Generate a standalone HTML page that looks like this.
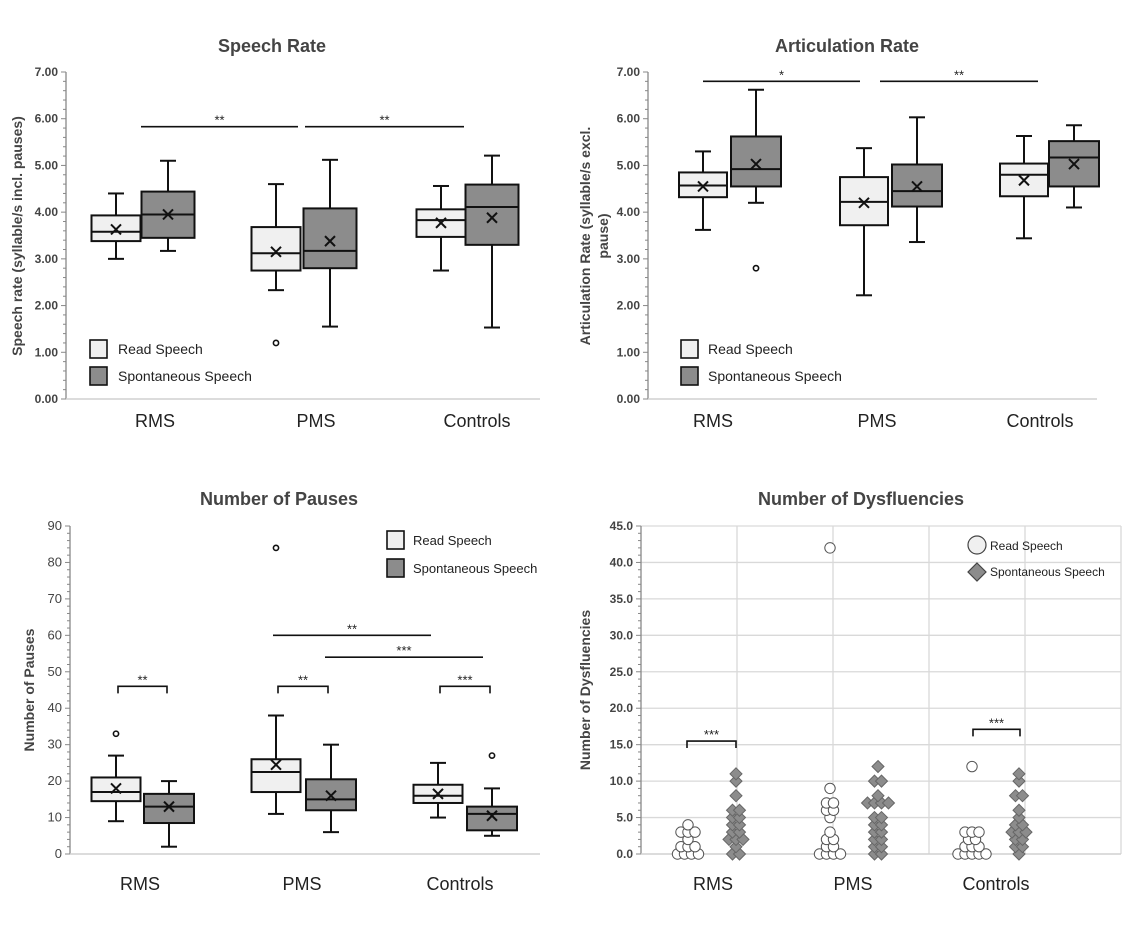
<!DOCTYPE html>
<html><head><meta charset="utf-8">
<style>
html,body{margin:0;padding:0;background:#fff;}
svg{display:block;font-family:"Liberation Sans",sans-serif;}
</style></head>
<body>
<svg id="c" width="1127" height="928" viewBox="0 0 1127 928"></svg>
<script>
const NS='http://www.w3.org/2000/svg';
const svg=document.getElementById('c');
// ---- data ----
const categories=['RMS','PMS','Controls'];
// [whiskerLow, q1, median, q3, whiskerHigh, mean]
const speechRead=[[3.0,3.38,3.58,3.93,4.4,3.63],[2.33,2.75,3.12,3.68,4.6,3.15],[2.75,3.47,3.83,4.06,4.56,3.77]];
const speechSpont=[[3.17,3.45,3.95,4.44,5.1,3.95],[1.55,2.8,3.17,4.08,5.12,3.38],[1.53,3.3,4.11,4.59,5.21,3.88]];
const speechOutRead=[[],[1.2],[]];
const speechOutSpont=[[],[],[]];
const artRead=[[3.62,4.32,4.57,4.85,5.3,4.55],[2.22,3.72,4.22,4.75,5.37,4.2],[3.44,4.34,4.8,5.04,5.63,4.68]];
const artSpont=[[4.2,4.55,4.92,5.62,6.62,5.03],[3.36,4.12,4.45,5.02,6.03,4.55],[4.1,4.55,5.17,5.52,5.86,5.03]];
const artOutRead=[[],[],[]];
const artOutSpont=[[2.8],[],[]];
const pauseRead=[[9,14.5,17,21,27,18],[11,17,22.5,26,38,24.5],[10,14,16,19,25,16.5]];
const pauseSpont=[[2,8.5,13,16.5,20,13],[6,12,15,20.5,30,16],[5,6.5,11,13,18,10.5]];
const pauseOutRead=[[33],[84],[]];
const pauseOutSpont=[[],[],[27]];
const dysRead=[[0,0,0,0,1,1,1,2,3,3,3,4],[0,0,0,0,1,1,2,2,3,5,6,6,7,7,9,42],[0,0,0,0,0,1,1,1,2,2,3,3,3,12]];
const dysSpont=[[0,0,1,2,2,2,3,3,4,4,5,5,6,6,8,10,11],[0,0,1,1,2,2,3,3,4,4,5,5,7,7,7,7,8,10,10,12],[0,1,1,2,2,3,3,3,4,4,5,6,8,8,10,11]];
const speechTicks=['0.00','1.00','2.00','3.00','4.00','5.00','6.00','7.00'];
const pauseTicks=['0','10','20','30','40','50','60','70','80','90'];
const dysTicks=['0.0','5.0','10.0','15.0','20.0','25.0','30.0','35.0','40.0','45.0'];

function el(tag,attrs,parent,text){const e=document.createElementNS(NS,tag);for(const k in attrs)e.setAttribute(k,attrs[k]);if(text!==undefined)e.textContent=text;(parent||svg).appendChild(e);return e;}
function txt(x,y,s,size,opt,name){opt=opt||{};const t=el('text',Object.assign({x:x,y:y,'font-size':size,fill:opt.fill||'#333','font-weight':opt.bold?'bold':'normal','text-anchor':opt.anchor||'middle'},opt.extra||{}),opt.parent,s);return t;}

function panel(cfg){
  const g=el('g',{});
  
  
  const y=v=>cfg.y0-(v-cfg.vmin)/(cfg.vmax-cfg.vmin)*(cfg.y0-cfg.y1);
  txt(cfg.titleX,cfg.titleY,cfg.title,18,{bold:true,fill:'#444',parent:g},'chart-title');
  if(cfg.grid){
    cfg.ticks.forEach((t,i)=>{const v=cfg.vmin+i*(cfg.vmax-cfg.vmin)/(cfg.ticks.length-1);if(i>0){const l=el('line',{x1:cfg.ax,x2:cfg.axEnd,y1:y(v),y2:y(v),stroke:'#d9d9d9','stroke-width':1.3},g);}});
    cfg.vgrid.forEach(xv=>{const l=el('line',{x1:xv,x2:xv,y1:cfg.y1,y2:cfg.y0,stroke:'#d9d9d9','stroke-width':1.3},g);});
  }
  const ya=el('line',{x1:cfg.ax,x2:cfg.ax,y1:cfg.y1,y2:cfg.y0,stroke:'#888','stroke-width':1.3},g);
  
  const xa=el('line',{x1:cfg.ax,x2:cfg.axEnd,y1:cfg.y0,y2:cfg.y0,stroke:'#d0d0d0','stroke-width':1.5},g);
  
  const n=cfg.ticks.length-1, step=(cfg.vmax-cfg.vmin)/n;
  for(let i=0;i<=n*cfg.minor;i++){const v=cfg.vmin+i*step/cfg.minor;const major=i%cfg.minor===0;
    const t=el('line',{x1:cfg.ax-(major?5:3),x2:cfg.ax,y1:y(v),y2:y(v),stroke:'#888','stroke-width':1},g);
    }
  cfg.ticks.forEach((s,i)=>txt(cfg.ax-8,y(cfg.vmin+i*step)+4,s,cfg.tickSize,{bold:cfg.tickBold,anchor:'end',fill:'#444',parent:g},'y-tick-label'));
  categories.forEach((c,i)=>txt(cfg.catX[i],cfg.catY,c,18,{fill:'#222',parent:g},'x-category-label'));
  cfg.ytitle.forEach((s,i)=>{const xx=cfg.ytX[i];txt(xx,cfg.ytY,s,cfg.ytSize||14,{bold:true,fill:'#444',parent:g,extra:{transform:'rotate(-90 '+xx+' '+cfg.ytY+')'}},'y-axis-title');});
  return {g,y};
}

function boxes(P,cx,data,outs,fill,w,name){
  data.forEach((d,i)=>{
    const x=cx[i],y=P.y,g=el('g',{},P.g);
    
    
    const s={stroke:'#111','stroke-width':2,fill:'none'};
    el('line',Object.assign({x1:x,x2:x,y1:y(d[0]),y2:y(d[1])},s),g);
    el('line',Object.assign({x1:x,x2:x,y1:y(d[3]),y2:y(d[4])},s),g);
    el('line',Object.assign({x1:x-8,x2:x+8,y1:y(d[0]),y2:y(d[0])},s),g);
    el('line',Object.assign({x1:x-8,x2:x+8,y1:y(d[4]),y2:y(d[4])},s),g);
    el('rect',{x:x-w/2,y:y(d[3]),width:w,height:y(d[1])-y(d[3]),fill:fill,stroke:'#111','stroke-width':2},g);
    el('line',Object.assign({x1:x-w/2,x2:x+w/2,y1:y(d[2]),y2:y(d[2])},s),g);
    const m=y(d[5]);
    el('path',Object.assign({d:`M${x-5} ${m-5}L${x+5} ${m+5}M${x+5} ${m-5}L${x-5} ${m+5}`},s),g);
    outs[i].forEach(o=>{const c=el('circle',{cx:x,cy:y(o),r:2.6,fill:'#fff',stroke:'#111','stroke-width':1.6},g);});
  });
}
function sigLine(P,x1,x2,v,label,bracket){
  const yy=P.y(v);
  const d=bracket?`M${x1} ${yy+7}V${yy}H${x2}V${yy+7}`:`M${x1} ${yy}H${x2}`;
  const p=el('path',{d:d,stroke:'#111','stroke-width':1.6,fill:'none'},P.g);
  
  txt((x1+x2)/2,yy-2,label,13,{fill:'#222',parent:P.g},'significance-label');
}
function legendBoxes(P,x,y1,y2,size,tx,fs){
  [[y1,'#f0f0f0','Read Speech'],[y2,'#8c8c8c','Spontaneous Speech']].forEach(([yy,f,s])=>{
    const r=el('rect',{x:x,y:yy,width:size,height:size+1,fill:f,stroke:'#111','stroke-width':1.6},P.g);
    
    txt(tx,yy+size-3,s,fs,{anchor:'start',fill:'#222',parent:P.g},'legend-entry');
  });
}

// Panel 1
const P1=panel({name:'speech-rate-chart',title:'Speech Rate',titleX:272,titleY:52,ax:66,axEnd:540,y0:399,y1:72,vmin:0,vmax:7,ticks:speechTicks,minor:5,tickSize:12,tickBold:true,catX:[155,316,477],catY:427,ytitle:['Speech rate (syllable/s incl. pauses)'],ytX:[22],ytY:236});
boxes(P1,[116,276,441],speechRead,speechOutRead,'#f0f0f0',49,'read-box');
boxes(P1,[168,330,492],speechSpont,speechOutSpont,'#8c8c8c',53,'spont-box');
sigLine(P1,141,298,5.83,'**');sigLine(P1,305,464,5.83,'**');
legendBoxes(P1,90,340,367,17,118,14);

// Panel 2
const P2=panel({name:'articulation-rate-chart',title:'Articulation Rate',titleX:847,titleY:52,ax:648,axEnd:1097,y0:399,y1:72,vmin:0,vmax:7,ticks:speechTicks,minor:5,tickSize:12,tickBold:true,catX:[713,877,1040],catY:427,ytitle:['Articulation Rate (syllable/s excl.','pause)'],ytX:[590,608],ytY:236});
boxes(P2,[703,864,1024],artRead,artOutRead,'#f0f0f0',48,'read-box');
boxes(P2,[756,917,1074],artSpont,artOutSpont,'#8c8c8c',50,'spont-box');
sigLine(P2,703,860,6.8,'*');sigLine(P2,880,1038,6.8,'**');
legendBoxes(P2,681,340,367,17,708,14);

// Panel 3
const P3=panel({name:'number-of-pauses-chart',title:'Number of Pauses',titleX:279,titleY:505,ax:70,axEnd:540,y0:854,y1:526,vmin:0,vmax:90,ticks:pauseTicks,minor:5,tickSize:13,tickBold:false,catX:[140,302,460],catY:890,ytitle:['Number of Pauses'],ytX:[34],ytY:690});
boxes(P3,[116,276,438],pauseRead,pauseOutRead,'#f0f0f0',49,'read-box');
boxes(P3,[169,331,492],pauseSpont,pauseOutSpont,'#8c8c8c',50,'spont-box');
sigLine(P3,118,167,46,'**',true);sigLine(P3,278,328,46,'**',true);sigLine(P3,440,490,46,'***',true);
sigLine(P3,273,431,60,'**');sigLine(P3,325,483,54,'***');
legendBoxes(P3,387,531,559,17,413,13);

// Panel 4
const P4=panel({name:'number-of-dysfluencies-chart',title:'Number of Dysfluencies',titleX:861,titleY:505,ax:641,axEnd:1121,y0:854,y1:526,vmin:0,vmax:45,ticks:dysTicks,minor:5,tickSize:12,tickBold:true,grid:true,vgrid:[737,833,929,1025,1121],catX:[713,853,996],catY:890,ytitle:['Number of Dysfluencies'],ytX:[590],ytY:690});
function swarm(P,cx,vals,shape){
  const counts={};
  vals.forEach(v=>{counts[v]=(counts[v]||0)+1;});
  const seen={};
  vals.forEach(v=>{
    const k=seen[v]=(seen[v]||0)+1;const tot=counts[v];
    const off=(k-1-(tot-1)/2)*7;
    const x=cx+off,yy=P.y(v);
    let m;
    if(shape==='c') m=el('circle',{cx:x,cy:yy,r:5.2,fill:'#fff',stroke:'#555','stroke-width':1},P.g);
    else m=el('path',{d:`M${x} ${yy-6}L${x+6} ${yy}L${x} ${yy+6}L${x-6} ${yy}Z`,fill:'#8c8c8c',stroke:'#666','stroke-width':1},P.g);
    
    
  });
}
[688,830,972].forEach((cx,i)=>swarm(P4,cx,dysRead[i],'c'));
[736,878,1019].forEach((cx,i)=>swarm(P4,cx,dysSpont[i],'d'));
sigLine(P4,687,736,15.5,'***',true);sigLine(P4,973,1020,17.1,'***',true);
const lc=el('circle',{cx:977,cy:545,r:9,fill:'#f0f0f0',stroke:'#444','stroke-width':1.2},P4.g);

txt(990,550,'Read Speech',12,{anchor:'start',fill:'#222',parent:P4.g},'legend-entry');
const ld=el('path',{d:'M977 563L986 572L977 581L968 572Z',fill:'#8c8c8c',stroke:'#444','stroke-width':1.2},P4.g);

txt(990,576,'Spontaneous Speech',12,{anchor:'start',fill:'#222',parent:P4.g},'legend-entry');
</script>
</body></html>
